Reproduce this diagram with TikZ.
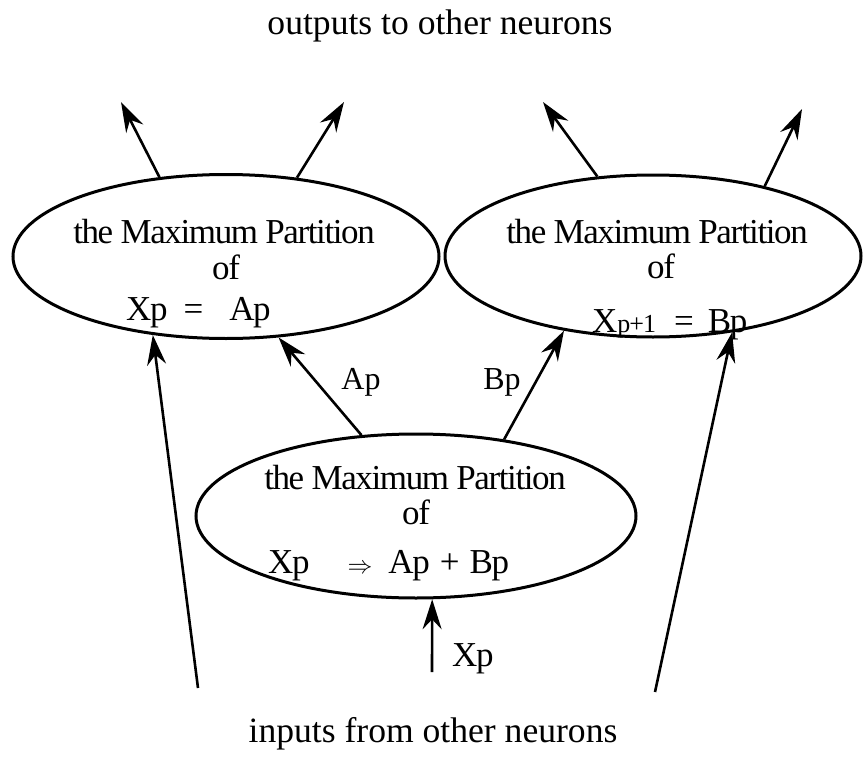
\documentclass[tikz,border=0pt]{standalone}
\usepackage{fontspec}
\setmainfont{Liberation Serif}
\newfontfamily\ellfont[LetterSpace=-4]{Liberation Serif}
\usetikzlibrary{arrows.meta,shapes.geometric}
\begin{document}
\begin{tikzpicture}[x=1pt,y=-1pt,
  oval/.style={draw,ellipse,line width=3pt,inner sep=0pt},
  txt/.style={inner sep=0pt,anchor=base,font=\fontsize{32}{36}\selectfont},
  etxt/.style={inner sep=0pt,anchor=base,font=\fontsize{35}{38}\ellfont},
  etxtw/.style={inner sep=0pt,anchor=base west,font=\fontsize{35}{38}\ellfont},
  big/.style={inner sep=0pt,anchor=base,font=\fontsize{35.6}{40}\selectfont},
  arr/.style={line width=2.6pt,-{Stealth[length=30pt,width=19pt,inset=10pt]}}]
\useasboundingbox (0,0) rectangle (865,760);
% ellipses
\node[oval,minimum width=426pt,minimum height=164pt] (L) at (226,256.5) {};
\node[oval,minimum width=416pt,minimum height=162pt] (R) at (653,256) {};
\node[oval,minimum width=440pt,minimum height=164pt] (B) at (416,516) {};
% outer texts
\node[big] (out) at (440,35) {outputs to other neurons};
\node[big] (in) at (433,742) {inputs from other neurons};
% left ellipse text
\node[etxt] (L1) at (224,243) {the Maximum Partition};
\node[etxt] (L2) at (226,279) {of};
\node[etxtw] (L3) at (126,320) {Xp\hspace{16pt}=\hspace{26pt}Ap};
% right ellipse text
\node[etxt] (R1) at (657,243) {the Maximum Partition};
\node[etxt] (R2) at (661,278) {of};
\node[etxtw] (R3) at (592,332) {X{\fontsize{26}{26}\selectfont p+1}\hspace{18pt}=\hspace{14pt}Bp};
% bottom ellipse text
\node[etxt] (B1) at (415,489) {the Maximum Partition};
\node[etxt] (B2) at (416,524) {of};
\node[etxtw] (B3) at (268,573) {Xp\hspace{38pt}{\fontsize{27}{27}\selectfont$\Rightarrow$}\hspace{16pt}Ap\hspace{10pt}+\hspace{10pt}Bp};
% labels
\node[txt] (la) at (361,389) {Ap};
\node[txt] (lb) at (502,389) {Bp};
\node[etxtw] (lx) at (452,666) {Xp};
% free ends
\coordinate (t1) at (121,102);
\coordinate (t2) at (344,102);
\coordinate (t3) at (543,102);
\coordinate (t4) at (802,109);
\coordinate (s1) at (198,688);
\coordinate (s2) at (655,692);
\coordinate (s3) at (432,672);
% arrows
\draw[arr] (L.130.2) -- (t1);
\draw[arr] (L.48.5) -- (t2);
\draw[arr] (R.125.2) -- (t3);
\draw[arr] (R.32.3) -- (t4);
\draw[arr] (B.124.2) -- (L.303.7);
\draw[arr] (B.41.3) -- (R.220.6);
\draw[arr] (s1) -- (L.227.9);
\draw[arr] (s2) -- (R.316.5);
\draw[arr] (s3) -- (B.281.1);
\end{tikzpicture}
\end{document}
